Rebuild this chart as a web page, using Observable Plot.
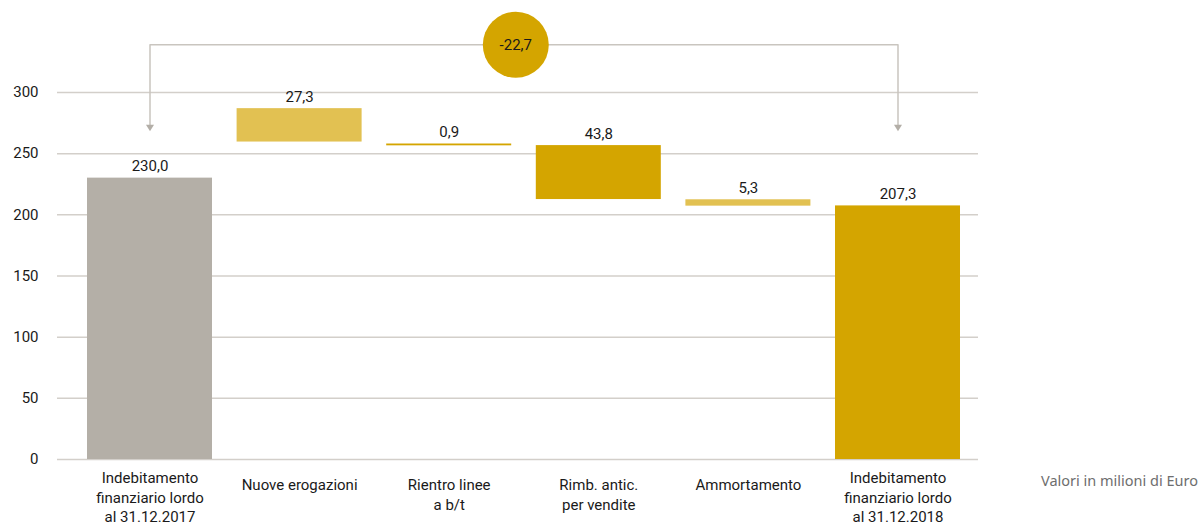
<!DOCTYPE html>
<html><head><meta charset="utf-8">
<script src="https://cdn.jsdelivr.net/npm/d3@7"></script>
<script src="https://cdn.jsdelivr.net/npm/@observablehq/plot@0.6"></script>
<style>
html,body{margin:0;padding:0;background:#fff;}
#wrap{position:relative;width:1203px;height:529px;overflow:hidden;}
#note{position:absolute;right:5px;top:470px;font-family:"Noto Sans",sans-serif;font-size:14.5px;color:#6e6e6e;white-space:nowrap;}
</style></head><body>
<div id="wrap"><div id="chart"></div><div id="note">Valori in milioni di Euro</div></div>
<script>
// ---- data ----
const categories = [
  "Indebitamento\nfinanziario lordo\nal 31.12.2017",
  "Nuove erogazioni",
  "Rientro linee\na b/t",
  "Rimb. antic.\nper vendite",
  "Ammortamento",
  "Indebitamento\nfinanziario lordo\nal 31.12.2018"
];
const valueLabels = [230.0, 27.3, 0.9, 43.8, 5.3, 207.3];
const barLow  = [0, 259.5, 256.4, 212.5, 207.1, 0];
const barHigh = [230.0, 286.8, 257.9, 256.6, 212.3, 207.3];
const barKind = ["start", "light", "dark", "dark", "light", "dark"];
const yTicks = [0, 50, 100, 150, 200, 250, 300];
const totalChange = -22.7;

// ---- annotation levels (data units) ----
const bracketLevel = 339;
const arrowTipLevel = 268.3;

const fills = {start: "#b4afa7", light: "#e2c152", dark: "#d4a500"};
const fmt = v => v.toFixed(1).replace(".", ",");

const rows = categories.map((c, i) => ({cat: c, low: barLow[i], high: barHigh[i], label: valueLabels[i], kind: barKind[i]}));
const longCats = categories.filter(c => c.split("\n").length > 2);
const shortCats = categories.filter(c => c.split("\n").length <= 2);

const bracket = [
  {cat: categories[0], y: arrowTipLevel + 3},
  {cat: categories[0], y: bracketLevel},
  {cat: categories[5], y: bracketLevel},
  {cat: categories[5], y: arrowTipLevel + 3}
];
const arrows = [categories[0], categories[5]];

const downTriangle = {
  draw(context) {
    context.moveTo(-4, -6.5);
    context.lineTo(4, -6.5);
    context.lineTo(0, 0);
    context.closePath();
  }
};

const gridColor = "#d3cfca";
const bracketColor = "#c9c5bf";
const catText = {frameAnchor: "bottom", lineAnchor: "top", lineHeight: 1.3, fontSize: 15, fill: "#1a1a1a"};

const chart = Plot.plot({
  width: 1203,
  height: 529,
  marginLeft: 57,
  marginRight: 225,
  marginTop: 92,
  marginBottom: 70,
  style: {fontFamily: "Roboto, sans-serif", fontSize: "15px", color: "#1a1a1a", background: "#fff", overflow: "visible"},
  x: {domain: categories, range: [87, 960], paddingInner: 0.1644, paddingOuter: 0, round: false, axis: null},
  y: {domain: [0, 300], label: null},
  marks: [
    Plot.ruleY(yTicks, {stroke: gridColor, strokeWidth: 1.5}),
    Plot.axisY({ticks: yTicks, tickSize: 0, tickPadding: 19, fontSize: 15, fill: "#1a1a1a", label: null}),
    Plot.barY(rows, {x: "cat", y1: "low", y2: "high", fill: d => fills[d.kind], inset: 0}),
    Plot.text(rows, {x: "cat", y: "high", text: d => fmt(d.label), lineAnchor: "bottom", dy: -7, fontSize: 15, fill: "#1a1a1a"}),
    Plot.text(longCats, {x: d => d, dy: 10, ...catText}),
    Plot.text(shortCats, {x: d => d, dy: 17, ...catText}),
    Plot.line(bracket, {x: "cat", y: "y", stroke: bracketColor, strokeWidth: 1.5}),
    Plot.dot(arrows, {x: d => d, y: () => arrowTipLevel, symbol: downTriangle, fill: "#b3aea7", stroke: "none"}),
    Plot.dot([totalChange], {x: () => categories[3], y: () => bracketLevel, r: 33, fill: fills.dark, dx: -83}),
    Plot.text([totalChange], {x: () => categories[3], y: () => bracketLevel, text: d => fmt(d), dx: -83, fontSize: 15, fill: "#1a1a1a", lineAnchor: "middle"})
  ]
});
document.getElementById("chart").appendChild(chart);
</script>
</body></html>
